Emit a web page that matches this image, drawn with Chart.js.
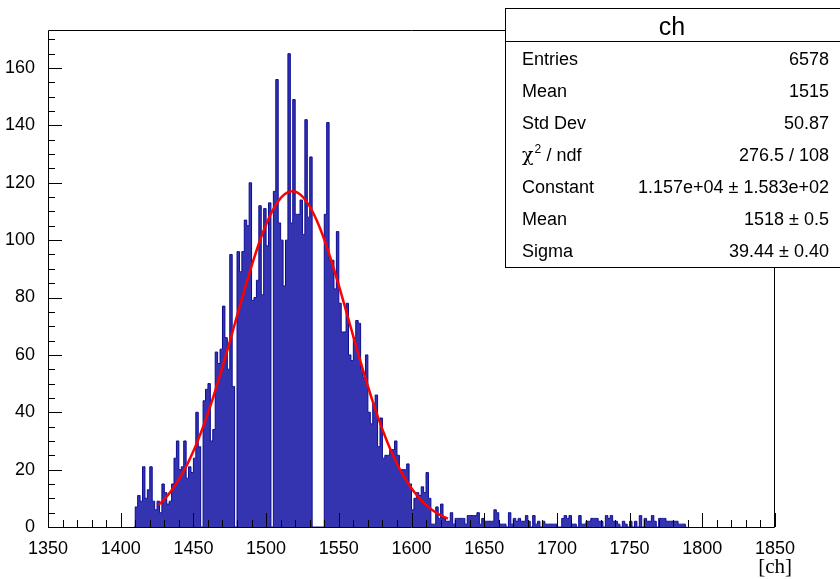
<!DOCTYPE html>
<html>
<head>
<meta charset="utf-8">
<script src="https://cdn.jsdelivr.net/npm/chart.js@4.4.1/dist/chart.umd.min.js"></script>
<style>
  html, body { margin: 0; padding: 0; background: #ffffff; }
  canvas { display: block; }
</style>
</head>
<body>
<canvas id="c" width="840" height="579"></canvas>
<script>
// Binning of the "ch" histogram: 300 bins between 1350 and 1850
const xMin = 1350;
const xMax = 1850;
const nBins = 300;
const firstBin = 35; // index of the first bin listed in counts

// Bin contents, starting at bin index firstBin (all other bins are empty)
const counts = [
  0, 7, 11, 9, 21, 10, 13, 21, 9, 6,
  9, 5, 15, 12, 8, 9, 15, 24, 30, 20,
  21, 30, 17, 21, 19, 24, 40, 28, 0, 44,
  48, 50, 30, 34, 61, 57, 62, 77, 66, 55,
  95, 49, 0, 96, 89, 96, 107, 105, 120, 79,
  80, 86, 112, 81, 111, 98, 113, 0, 117, 156,
  106, 100, 84, 100, 165, 106, 149, 109, 109, 114,
  102, 142, 108, 129, 0, 0, 0, 0, 0, 109,
  141, 93, 93, 83, 103, 78, 68, 68, 78, 60,
  58, 66, 72, 71, 55, 52, 60, 40, 36, 43,
  46, 28, 38, 24, 25, 25, 27, 27, 30, 25,
  20, 20, 20, 22, 15, 6, 10, 12, 11, 14,
  12, 19, 10, 1, 1, 7, 3, 8, 3, 2,
  2, 5, 1, 3, 3, 3, 3, 1, 4, 4,
  4, 4, 5, 1, 3, 2, 2, 2, 2, 6,
  5, 1, 1, 1, 0, 5, 1, 3, 2, 3,
  2, 2, 4, 2, 0, 4, 1, 2, 0, 2,
  1, 1, 1, 1, 1, 0, 0, 3, 4, 3,
  4, 1, 1, 0, 4, 1, 1, 2, 2, 3,
  3, 3, 2, 2, 0, 4, 3, 4, 2, 2,
  1, 0, 2, 1, 0, 2, 0, 2, 0, 4,
  0, 3, 2, 2, 4, 2, 0, 3, 3, 3,
  2, 2, 2, 2, 2, 1, 1, 1, 0
];

// Axis ticks
const xTickStep = 50, xMinorStep = 10;
const yTickStep = 20, yMinorStep = 5;
const yMax = 173.25;
const xTitle = "[ch]";

// Gaussian (gausn) fit result and its range
const fitConstant = 1.157e4;
const fitMean = 1518;
const fitSigma = 39.44;
const fitFrom = 1426;
const fitTo = 1625;

// Statistics box
const statsTitle = "ch";
const statsLabels = ["Entries", "Mean", "Std Dev", "CHI2", "Constant", "Mean", "Sigma"];
const statsValues = ["6578", "1515", "50.87", "276.5 / 108", "1.157e+04 \u00b1 1.583e+02", "1518 \u00b1 0.5", "39.44 \u00b1 0.40"];

const FONT = "'Liberation Sans', Arial, Helvetica, sans-serif";
const binWidth = (xMax - xMin) / nBins;

const histPoints = counts.map((v, i) => ({ x: xMin + (firstBin + i + 0.5) * binWidth, y: v }));

const fitPoints = [];
for (let x = fitFrom; x <= fitTo; x += 1) {
  const z = (x - fitMean) / fitSigma;
  fitPoints.push({ x: x, y: fitConstant * Math.exp(-0.5 * z * z) / (Math.sqrt(2 * Math.PI) * fitSigma) });
}

// Frame, inward ticks, axis title and the statistics box
const framePlugin = {
  id: 'rootFrame',
  afterDatasetsDraw(chart) {
    const { ctx, chartArea: a, scales } = chart;
    const xs = scales.x, ys = scales.y;
    ctx.save();
    ctx.strokeStyle = '#000000';
    ctx.lineWidth = 1;
    ctx.beginPath();
    ctx.rect(a.left + 0.5, a.top + 0.5, a.right - a.left - 1, a.bottom - a.top);
    ctx.stroke();

    ctx.beginPath();
    for (let v = xMin; v <= xMax + 1e-6; v += xMinorStep) {
      const px = Math.round(xs.getPixelForValue(v)) + 0.5;
      const len = (Math.abs((v - xMin) % xTickStep) < 1e-6) ? 14 : 7;
      ctx.moveTo(px, a.bottom);
      ctx.lineTo(px, a.bottom - len);
    }
    for (let v = 0; v <= yMax; v += yMinorStep) {
      const py = Math.round(ys.getPixelForValue(v)) + 0.5;
      const len = (v % yTickStep === 0) ? 14 : 7;
      ctx.moveTo(a.left, py);
      ctx.lineTo(a.left + len, py);
    }
    ctx.stroke();

    // axis title
    ctx.fillStyle = '#000000';
    ctx.font = "21px 'Liberation Serif', 'Times New Roman', serif";
    ctx.textAlign = 'right';
    ctx.textBaseline = 'alphabetic';
    ctx.fillText(xTitle, 792, 573);

    // statistics box
    const bx = 505.5, by = 8.5, bw = 340, bh = 259;
    ctx.fillStyle = '#ffffff';
    ctx.fillRect(bx, by, bw, bh);
    ctx.strokeStyle = '#000000';
    ctx.strokeRect(bx, by, bw, bh);
    ctx.beginPath();
    ctx.moveTo(bx, 41.5);
    ctx.lineTo(bx + bw, 41.5);
    ctx.stroke();

    ctx.fillStyle = '#000000';
    ctx.textAlign = 'center';
    ctx.font = '25px ' + FONT;
    ctx.fillText(statsTitle, 672, 35);

    ctx.font = '18px ' + FONT;
    statsLabels.forEach((lab, i) => {
      const y = 65 + i * 32;
      ctx.textAlign = 'left';
      if (lab === 'CHI2') {
        ctx.font = "19px 'DejaVu Serif', 'Liberation Serif', serif";
        ctx.fillText('\u03c7', 522, y);
        const w = ctx.measureText('\u03c7').width;
        ctx.font = '12px ' + FONT;
        ctx.fillText('2', 522 + w + 1, y - 8);
        ctx.font = '18px ' + FONT;
        ctx.fillText(' / ndf', 522 + w + 8, y);
      } else {
        ctx.fillText(lab, 522, y);
      }
      ctx.textAlign = 'right';
      ctx.fillText(statsValues[i], 829, y);
    });
    ctx.restore();
  }
};

new Chart(document.getElementById('c').getContext('2d'), {
  type: 'line',
  data: {
    datasets: [
      {
        label: 'ch',
        data: histPoints,
        stepped: 'middle',
        fill: 'origin',
        backgroundColor: '#3434b0',
        borderColor: '#0c0c94',
        borderWidth: 1,
        pointRadius: 0,
        order: 2
      },
      {
        label: 'gausn fit',
        data: fitPoints,
        borderColor: '#ff0000',
        borderWidth: 2.5,
        pointRadius: 0,
        fill: false,
        tension: 0,
        order: 1
      }
    ]
  },
  options: {
    responsive: false,
    animation: false,
    devicePixelRatio: 1,
    layout: { padding: { top: 30, right: 65, left: 0, bottom: 0 } },
    plugins: { legend: { display: false }, tooltip: { enabled: false } },
    scales: {
      x: {
        type: 'linear',
        min: xMin,
        max: xMax,
        grid: { display: false },
        border: { display: false },
        ticks: {
          stepSize: xTickStep,
          autoSkip: false,
          maxRotation: 0,
          padding: 3,
          color: '#000000',
          font: { family: FONT, size: 18 },
          callback: (v) => String(v)
        },
        afterFit: (s) => { s.height = 52; }
      },
      y: {
        type: 'linear',
        min: 0,
        max: yMax,
        grid: { display: false },
        border: { display: false },
        ticks: {
          stepSize: yTickStep,
          includeBounds: false,
          padding: 5,
          color: '#000000',
          font: { family: FONT, size: 18 },
          callback: (v) => String(v)
        },
        afterFit: (s) => { s.width = 48; }
      }
    }
  },
  plugins: [framePlugin]
});
</script>
</body>
</html>
